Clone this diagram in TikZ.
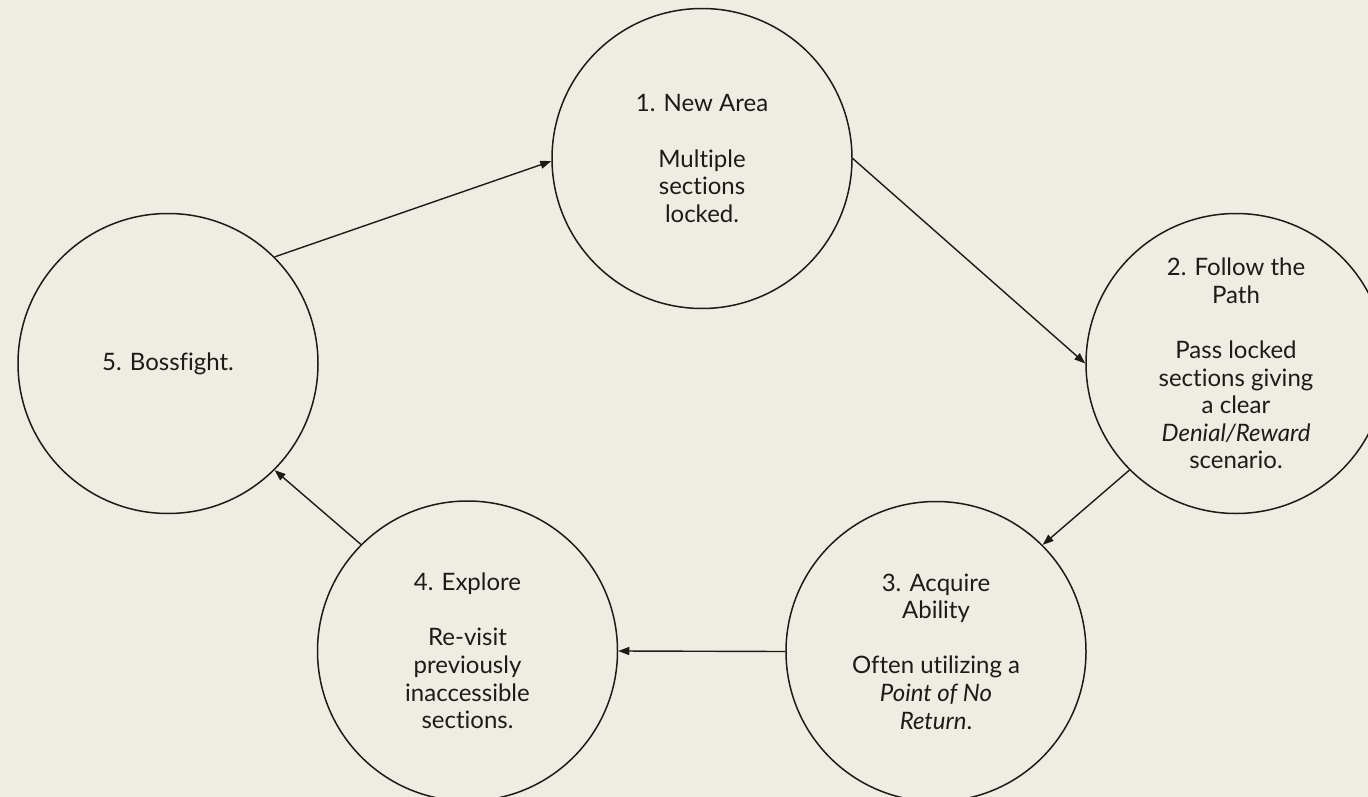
\documentclass[tikz,border=0pt]{standalone}
\usepackage{fontspec}
\setmainfont{Lato}[Ligatures={NoCommon}]
\usetikzlibrary{arrows.meta}
\definecolor{bg}{RGB}{239,236,227}
\definecolor{ink}{RGB}{28,28,22}
\tikzset{
  stage/.style={circle, draw=ink, line width=1.5pt, minimum size=300pt, inner sep=0pt,
    align=center, text=ink, font=\fontsize{24}{27.6}\selectfont},
  link/.style={draw=ink, line width=1.4pt, -{Triangle[length=11pt,width=8pt]}}
}
\begin{document}
\begin{tikzpicture}[x=1pt,y=-1pt]
\fill[bg] (0,0) rectangle (1368,797);
\clip (0,0) rectangle (1368,797);
\node[stage] (c1) at (702,158.5) {1. New Area\\[27.6pt]Multiple\\sections\\locked.};
\node[stage] (c2) at (1236,363.5) {2. Follow the\\Path\\[27.6pt]Pass locked\\sections giving\\a clear\\\textit{Denial/Reward}\\scenario.};
\node[stage] (c3) at (936,651.5) {3. Acquire\\Ability\\[27.6pt]Often utilizing a\\\textit{Point of No}\\\textit{Return}.};
\node[stage] (c4) at (467.5,651) {4. Explore\\[27.6pt]Re-visit\\previously\\inaccessible\\sections.};
\node[stage] (c5) at (168,363.5) {5. Bossfight.};
\draw[link] (c5.45) -- (c1.181);
\draw[link] (c1.0) -- (c2.180);
\draw[link] (c2.225) -- (c3.45);
\draw[link] (c3.180) -- (c4.0);
\draw[link] (c4.135) -- (c5.315);
\end{tikzpicture}
\end{document}
